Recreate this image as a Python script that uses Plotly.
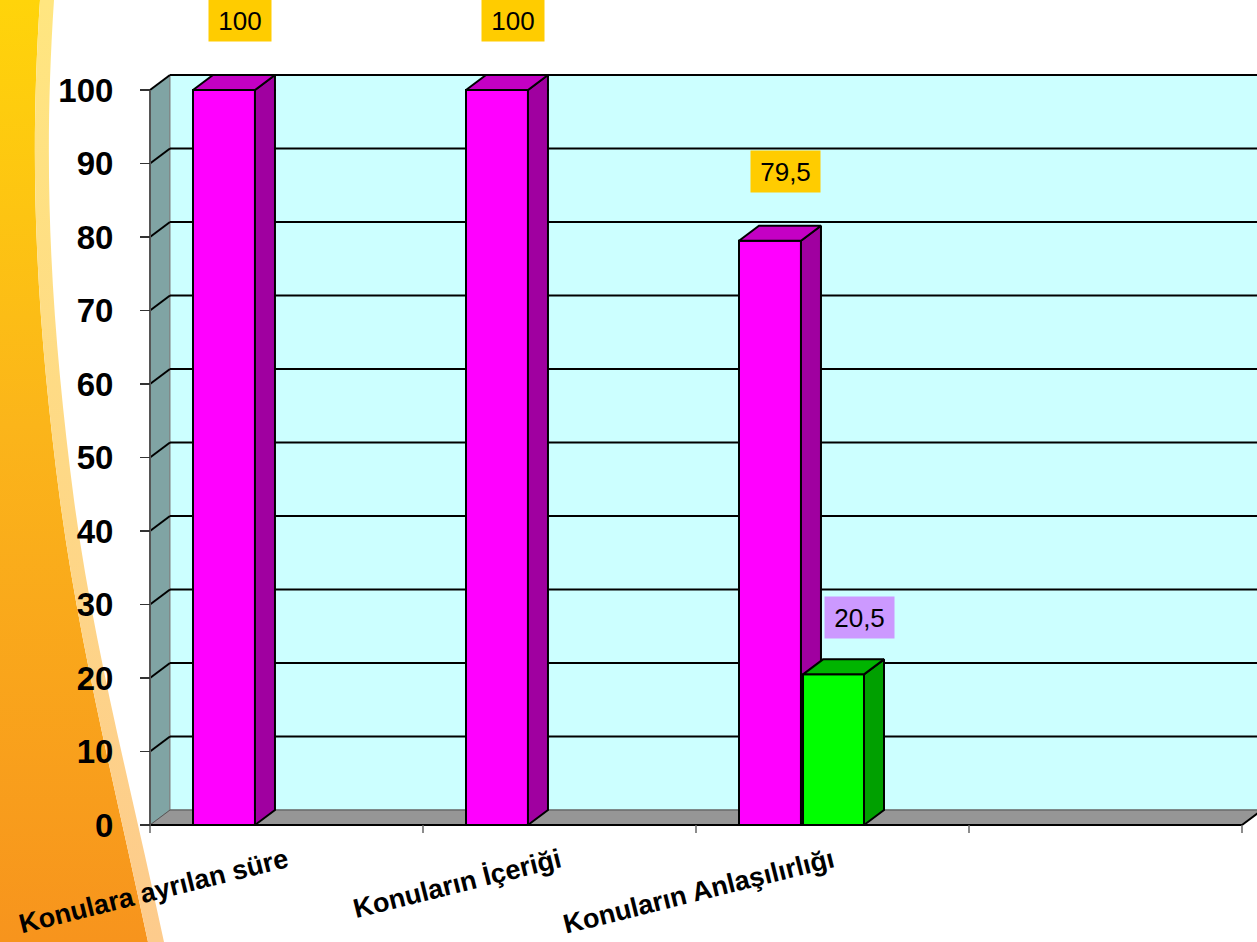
import base64
import plotly.graph_objects as go

# ---------------- data ----------------
categories = ["Konulara ayrılan süre", "Konuların İçeriği", "Konuların Anlaşılırlığı", ""]
series1 = [100, 100, 79.5, None]
series2 = [None, None, 20.5, None]
y_ticks = [0, 10, 20, 30, 40, 50, 60, 70, 80, 90, 100]

# ---------------- geometry / style ----------------
W, H = 1257, 942
X_LEFT_PX = 150      # pixel of the first category boundary
CAT_PX = 273         # pixels per category
Y_ZERO_PX = 825      # pixel of value 0
Y_UNIT_PX = 7.35     # pixels per value unit
DX = 20 / CAT_PX     # 3D depth (x, data units)
DY = 15 / Y_UNIT_PX  # 3D depth (y, data units)

XR = [-0.5 - X_LEFT_PX / CAT_PX, -0.5 + (W - X_LEFT_PX) / CAT_PX]
YR = [-(H - Y_ZERO_PX) / Y_UNIT_PX, Y_ZERO_PX / Y_UNIT_PX]
X_END = -0.5 + len(categories)
Y_TOP = max(y_ticks)

S1 = dict(front="#FF00FF", top="#C400C4", side="#A000A0", offset=-0.3425, width=0.227,
          label_bg="#FFCC00", xshift=6, yshift=62)
S2 = dict(front="#00FF00", top="#00B400", side="#00A000", offset=-0.108, width=0.2234,
          label_bg="#CC99FF", xshift=16, yshift=49)

FONT = "Liberation Sans, Arial, sans-serif"

fig = go.Figure()


def add_series(vals, st, xa, ya):
    xs = list(range(len(vals)))
    fig.add_trace(go.Bar(
        x=xs, y=vals, offset=st["offset"], width=st["width"],
        marker=dict(color=st["front"], line=dict(color="black", width=2)),
        xaxis=xa, yaxis=ya, hoverinfo="skip"))
    for i, v in enumerate(vals):
        if v is None:
            continue
        l = i + st["offset"]
        r = l + st["width"]
        side_x = [r, r, r + DX, r + DX, r]
        side_y = [0, v, v + DY, DY, 0]
        top_x = [l, l + DX, r + DX, r, l]
        top_y = [v, v + DY, v + DY, v, v]
        for px, py, col in ((side_x, side_y, st["side"]), (top_x, top_y, st["top"])):
            fig.add_trace(go.Scatter(
                x=px, y=py, mode="lines", fill="toself", fillcolor=col,
                line=dict(color="black", width=2), xaxis=xa, yaxis=ya,
                hoverinfo="skip"))
        fig.add_annotation(
            x=i + st["offset"] + st["width"] / 2 + DX / 2, y=v + DY / 2,
            xref=xa, yref=ya, xshift=st["xshift"], yshift=st["yshift"],
            text="\u00a0" + f"{v:g}".replace(".", ",") + "\u00a0",
            showarrow=False, bgcolor=st["label_bg"], borderpad=2, height=37,
            valign="middle",
            font=dict(family=FONT, size=26, color="black"))


add_series(series1, S1, "x", "y")
add_series(series2, S2, "x2", "y2")

# ---------------- walls, floor, gridlines ----------------
shapes = []
x_wall = -0.5 + DX
shapes.append(dict(type="path", layer="below", xref="x", yref="y",
                   path=f"M{-0.5},{0} L{-0.5},{Y_TOP} L{x_wall},{Y_TOP + DY} L{x_wall},{DY} Z",
                   fillcolor="#80A4A4", line=dict(color="#808080", width=1)))
shapes.append(dict(type="rect", layer="below", xref="x", yref="y",
                   x0=x_wall, y0=DY, x1=XR[1] + 1, y1=Y_TOP + DY,
                   fillcolor="#CCFFFF", line=dict(color="#808080", width=1)))
shapes.append(dict(type="path", layer="below", xref="x", yref="y",
                   path=f"M{-0.5},{0} L{x_wall},{DY} L{X_END + DX},{DY} L{X_END},{0} Z",
                   fillcolor="#969696", line=dict(color="#555555", width=1)))
for v in y_ticks[1:]:
    shapes.append(dict(type="line", layer="below", xref="x", yref="y",
                       x0=x_wall, y0=v + DY, x1=XR[1] + 1, y1=v + DY,
                       line=dict(color="black", width=2)))
    shapes.append(dict(type="line", layer="below", xref="x", yref="y",
                       x0=-0.5, y0=v, x1=x_wall, y1=v + DY,
                       line=dict(color="black", width=2)))
shapes.append(dict(type="line", layer="below", xref="x", yref="y",
                   x0=-0.5, y0=0, x1=X_END, y1=0, line=dict(color="black", width=2)))
shapes.append(dict(type="line", layer="below", xref="x", yref="y",
                   x0=X_END, y0=0, x1=X_END + DX, y1=DY, line=dict(color="black", width=2)))
shapes.append(dict(type="line", layer="below", xref="x", yref="y",
                   x0=-0.5, y0=0, x1=-0.5, y1=Y_TOP, line=dict(color="#555555", width=2)))
for b in range(len(categories) + 1):
    xb = b - 0.5
    shapes.append(dict(type="line", layer="below", xref="x", yref="y",
                       x0=xb, y0=0, x1=xb, y1=-8 / Y_UNIT_PX,
                       line=dict(color="#666666", width=1.5)))

# ---------------- left decorative swoosh ----------------
svg = f"""<svg xmlns="http://www.w3.org/2000/svg" width="{W}" height="{H}" viewBox="0 0 {W} {H}">
<defs>
<linearGradient id="g" x1="0" y1="0" x2="0" y2="1">
<stop offset="0" stop-color="#FFD40A"/><stop offset="0.45" stop-color="#FBB51A"/><stop offset="1" stop-color="#F7941D"/>
</linearGradient>
<linearGradient id="b" x1="0" y1="0" x2="0" y2="1">
<stop offset="0" stop-color="#FFE680"/><stop offset="1" stop-color="#FDCB8C"/>
</linearGradient>
</defs>
<path d="M0,0 L40,0 C28,180 38,330 60,500 C80,650 118,800 148,942 L0,942 Z" fill="url(#g)"/>
<path d="M40,0 C28,180 38,330 60,500 C80,650 118,800 148,942 L164,942 C134,800 94,650 74,500 C52,330 42,180 54,0 Z" fill="url(#b)"/>
</svg>"""
src = "data:image/svg+xml;base64," + base64.b64encode(svg.encode()).decode()

fig.update_layout(
    width=W, height=H, margin=dict(l=0, r=0, t=0, b=0),
    paper_bgcolor="white", plot_bgcolor="rgba(0,0,0,0)",
    showlegend=False, hovermode=False, shapes=shapes,
    images=[dict(source=src, xref="paper", yref="paper", x=0, y=1, sizex=1, sizey=1,
                 xanchor="left", yanchor="top", sizing="stretch", layer="below")],
    xaxis=dict(domain=[0, 1], range=XR, anchor="free", position=(H - Y_ZERO_PX) / H,
               tickmode="array", tickvals=list(range(len(categories))), ticktext=categories,
               tickangle=-14, ticks="", showgrid=False, zeroline=False, showline=False,
               tickfont=dict(family=FONT, size=27, color="black", weight="bold"),
               ticklabelstandoff=14, fixedrange=True),
    yaxis=dict(domain=[0, 1], range=YR, anchor="free", position=X_LEFT_PX / W,
               tickmode="array", tickvals=y_ticks, ticks="outside", ticklen=10,
               tickcolor="#333333", tickwidth=1.5, showgrid=False, zeroline=False,
               showline=False, ticklabelstandoff=20,
               tickfont=dict(family=FONT, size=33, color="black", weight="bold"),
               fixedrange=True),
    xaxis2=dict(overlaying="x", range=XR, visible=False, fixedrange=True),
    yaxis2=dict(overlaying="y", range=YR, visible=False, fixedrange=True),
)

fig.write_html(
    "out.html",
    config={"displayModeBar": False, "staticPlot": True},
    post_script="document.body.style.margin='0';document.body.style.overflow='hidden';",
)
